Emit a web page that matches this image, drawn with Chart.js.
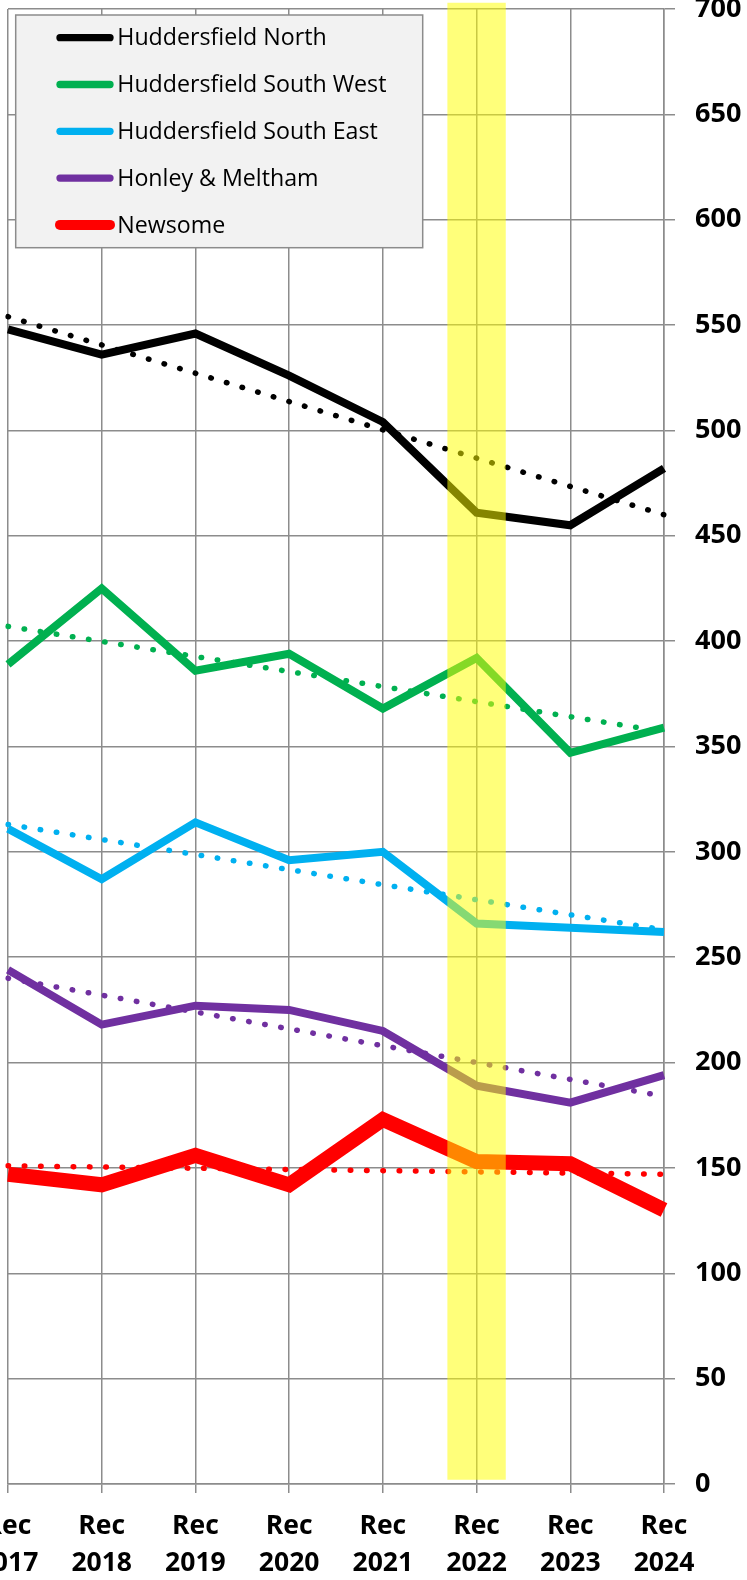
<!DOCTYPE html>
<html>
<head>
<meta charset="utf-8">
<script src="https://cdn.jsdelivr.net/npm/chart.js@4.4.1/dist/chart.umd.min.js"></script>
<style>
  html, body { margin: 0; padding: 0; background: #fff; }
  #wrap { position: relative; width: 747px; height: 1580px; overflow: hidden; }
  #grafico { position: absolute; left: -60px; top: 0; }
</style>
</head>
<body>
<div id="wrap">
  <canvas id="grafico" width="807" height="1580"></canvas>
</div>
<script>
// categories (two-line tick labels)
const categorias = [
  ['Rec', '2017'], ['Rec', '2018'], ['Rec', '2019'], ['Rec', '2020'],
  ['Rec', '2021'], ['Rec', '2022'], ['Rec', '2023'], ['Rec', '2024']
];

const nomes = ['Huddersfield North', 'Huddersfield South West', 'Huddersfield South East', 'Honley & Meltham', 'Newsome'];
const cores = ['#000000', '#00b050', '#00b0f0', '#7030a0', '#ff0000'];

// values
const north     = [548, 536, 546, 526, 504, 461, 455, 482];
const southWest = [389, 425, 386, 394, 368, 392, 347, 359];
const southEast = [311, 287, 314, 296, 300, 266, 264, 262];
const honley    = [244, 218, 227, 225, 215, 189, 181, 194];
const newsome   = [147, 142, 156, 142, 173, 153, 152, 130];

// dotted trend lines: value at Rec 2017 and at Rec 2024
const northTrend     = [554, 460];
const southWestTrend = [407, 357];
const southEastTrend = [313, 263];
const honleyTrend    = [240, 184];
const newsomeTrend   = [151, 147];

// yellow highlight on Rec 2022
const destaqueIdx = 5;
const destaqueFaixa = [2, 703];

const yTicks = [0, 50, 100, 150, 200, 250, 300, 350, 400, 450, 500, 550, 600, 650, 700];

const series = [north, southWest, southEast, honley, newsome];
const trends = [northTrend, southWestTrend, southEastTrend, honleyTrend, newsomeTrend];
const larguras = [8, 8, 8, 8, 15];

function trendData(t) {
  const arr = categorias.map(() => null);
  arr[0] = t[0];
  arr[arr.length - 1] = t[1];
  return arr;
}

const datasets = [];

datasets.push({
  type: 'bar',
  data: categorias.map((c, i) => i === destaqueIdx ? destaqueFaixa : null),
  backgroundColor: 'rgba(255,255,0,0.52)',
  borderWidth: 0,
  categoryPercentage: 1,
  barPercentage: 0.623,
  order: 0,
  clip: false
});

series.forEach((s, i) => {
  datasets.push({
    type: 'line',
    label: nomes[i],
    data: s,
    borderColor: cores[i],
    borderWidth: larguras[i],
    pointRadius: 0,
    tension: 0,
    fill: false,
    order: 1
  });
});

trends.forEach((t, i) => {
  datasets.push({
    type: 'line',
    data: trendData(t),
    spanGaps: true,
    borderColor: cores[i],
    borderWidth: 5.5,
    borderDash: [0.5, 15.8],
    borderCapStyle: 'round',
    pointRadius: 0,
    tension: 0,
    fill: false,
    order: 1
  });
});

const legendaBox = {
  id: 'legendaBox',
  afterDraw(chart) {
    const ctx = chart.ctx;
    ctx.save();
    ctx.fillStyle = '#f2f2f2';
    ctx.strokeStyle = '#8c8c8c';
    ctx.lineWidth = 1.5;
    ctx.fillRect(75.7, 15, 407, 232.7);
    ctx.strokeRect(75.7, 15, 407, 232.7);
    ctx.font = '23.2px "Open Sans"';
    ctx.textBaseline = 'middle';
    ctx.textAlign = 'left';
    ctx.lineCap = 'round';
    nomes.forEach((n, i) => {
      const y = 37.7 + i * 46.8;
      ctx.strokeStyle = cores[i];
      ctx.lineWidth = i === 4 ? 10 : 7.3;
      ctx.beginPath();
      ctx.moveTo(120, y);
      ctx.lineTo(170, y);
      ctx.stroke();
      ctx.fillStyle = '#000';
      ctx.fillText(n, 177.3, y + 1);
    });
    ctx.restore();
  }
};

const canvas = document.getElementById('grafico');
const ctx = canvas.getContext('2d');
const meuGrafico = new Chart(ctx, {
  type: 'line',
  data: { labels: categorias, datasets: datasets },
  options: {
    responsive: false,
    animation: false,
    events: [],
    layout: { padding: { top: 9, left: 68, right: 0, bottom: 0 } },
    plugins: { legend: { display: false }, tooltip: { enabled: false } },
    scales: {
      x: {
        offset: false,
        grid: { offset: false, color: '#8c8c8c', lineWidth: 1.5, tickLength: 9 },
        border: { color: '#8c8c8c', width: 1.5 },
        ticks: {
          color: '#000',
          font: { family: 'Open Sans', size: 26.5, weight: 'bold', lineHeight: 1.41 },
          padding: 14.6,
          maxRotation: 0,
          autoSkip: false
        },
        afterFit(scale) {
          scale.height = 96;
          scale.paddingLeft = 0;
          scale.paddingRight = 0;
        }
      },
      y: {
        position: 'right',
        min: 0,
        max: 700,
        afterBuildTicks(scale) {
          scale.ticks = yTicks.map(v => ({ value: v }));
        },
        grid: { color: '#8c8c8c', lineWidth: 1.5, tickLength: 11 },
        border: { color: '#8c8c8c', width: 1.5 },
        ticks: {
          color: '#000',
          font: { family: 'Open Sans', size: 27, weight: 'bold' },
          padding: 20
        },
        afterFit(scale) {
          scale.width = 83;
          scale.paddingTop = 0;
          scale.paddingBottom = 0;
        }
      }
    }
  },
  plugins: [legendaBox]
});
</script>
</body>
</html>
